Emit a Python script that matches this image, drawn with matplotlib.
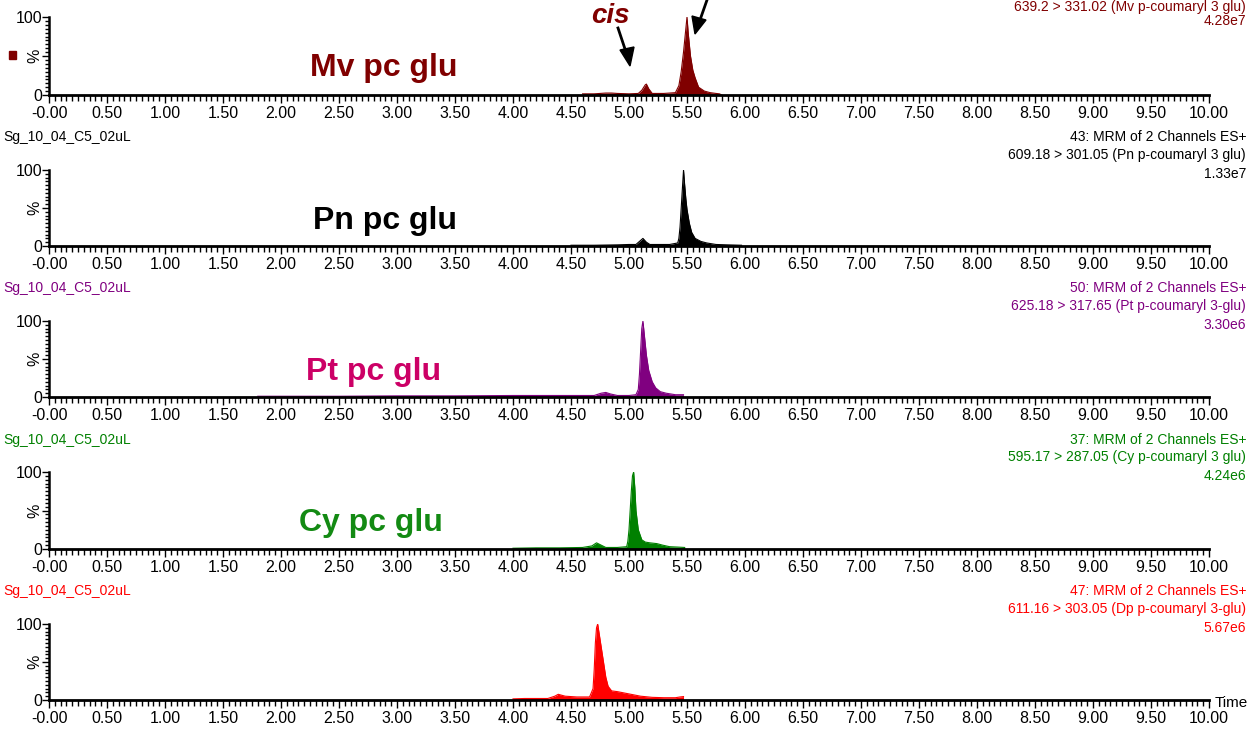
import numpy as np
import matplotlib
matplotlib.use("Agg")
import matplotlib.pyplot as plt
import matplotlib.ticker as ticker

plt.rcParams['font.family'] = ['Liberation Sans', 'DejaVu Sans']

# ---- data: chromatogram traces (time in min, intensity in %)
mv_t = [4.60, 4.70, 4.80, 4.85, 4.90, 5.00, 5.08, 5.11, 5.14, 5.15, 5.17, 5.20, 5.30, 5.40,
        5.43, 5.45, 5.47, 5.49, 5.50, 5.51, 5.53, 5.55, 5.57, 5.60, 5.65, 5.70, 5.75, 5.78, 5.80]
mv_y = [1.5, 1.5, 2.5, 2.5, 2, 1.5, 2, 6, 13, 14, 8, 2, 2, 3,
        12, 30, 55, 85, 100, 80, 50, 32, 22, 10, 5, 3, 2, 1.5, 0]

pn_t = [4.50, 4.70, 4.90, 5.00, 5.06, 5.09, 5.12, 5.15, 5.18, 5.25, 5.35, 5.42, 5.43, 5.44,
        5.45, 5.46, 5.47, 5.48, 5.49, 5.50, 5.52, 5.54, 5.57, 5.62, 5.67, 5.75, 5.85, 5.97]
pn_y = [1, 1, 1.5, 2, 2, 6, 10, 5, 2, 2, 2, 4, 10, 25,
        50, 75, 100, 80, 62, 48, 30, 18, 10, 6, 4, 2, 1.5, 1]

pt_t = [1.80, 2.50, 3.00, 3.50, 4.00, 4.30, 4.50, 4.70, 4.76, 4.80, 4.84, 4.90, 5.00, 5.06,
        5.08, 5.09, 5.10, 5.11, 5.12, 5.13, 5.15, 5.17, 5.20, 5.23, 5.27, 5.32, 5.40, 5.47]
pt_y = [1, 1, 1.5, 1.5, 2, 2, 2, 2, 5, 6, 4, 2, 2, 3,
        10, 30, 60, 90, 100, 85, 55, 35, 20, 12, 7, 5, 3, 3]

cy_t = [4.00, 4.20, 4.40, 4.60, 4.68, 4.72, 4.76, 4.80, 4.90, 4.98, 4.99, 5.00, 5.01, 5.02,
        5.03, 5.04, 5.05, 5.06, 5.08, 5.11, 5.14, 5.18, 5.24, 5.29, 5.35, 5.42, 5.48]
cy_y = [1, 1.5, 1.5, 2, 4, 8, 5, 2, 2, 3, 10, 25, 50, 75,
        95, 100, 80, 50, 25, 12, 9, 8, 7, 5, 3, 2.5, 2]

dp_t = [4.00, 4.10, 4.20, 4.30, 4.36, 4.39, 4.45, 4.55, 4.66, 4.69, 4.70, 4.71, 4.72, 4.73,
        4.74, 4.76, 4.78, 4.80, 4.82, 4.85, 4.90, 5.00, 5.10, 5.20, 5.30, 5.40, 5.44, 5.47]
dp_y = [1.5, 2, 2, 2, 5, 7.5, 5, 4, 4, 15, 40, 75, 95, 100,
        90, 70, 50, 30, 18, 12, 11, 8, 5, 3.5, 3, 3, 4, 4.5]

sample = "Sg_10_04_C5_02uL"
functions = [None, "43: MRM of 2 Channels ES+", "50: MRM of 2 Channels ES+",
             "37: MRM of 2 Channels ES+", "47: MRM of 2 Channels ES+"]
transitions = ["639.2 > 331.02 (Mv p-coumaryl 3 glu)",
               "609.18 > 301.05 (Pn p-coumaryl 3 glu)",
               "625.18 > 317.65 (Pt p-coumaryl 3-glu)",
               "595.17 > 287.05 (Cy p-coumaryl 3 glu)",
               "611.16 > 303.05 (Dp p-coumaryl 3-glu)"]
scales = ["4.28e7", "1.33e7", "3.30e6", "4.24e6", "5.67e6"]
names = ["Mv pc glu", "Pn pc glu", "Pt pc glu", "Cy pc glu", None]

traces = [(mv_t, mv_y), (pn_t, pn_y), (pt_t, pt_y), (cy_t, cy_y), (dp_t, dp_y)]
colors = ["#800000", "#000000", "#800080", "#008000", "#ff0000"]
name_colors = ["#800000", "#000000", "#cc0066", "#138a13", None]
name_x = [384, 385, 374, 371, None]

W, H = 1249, 730
fig = plt.figure(figsize=(W / 100, H / 100), dpi=100)


def fx(px):
    return px / W


def fy(py):
    return 1 - py / H


# pixel rows of 100% and 0% for each panel
tops = [17, 170, 321, 472, 624]
bottoms = [95, 246, 397, 549, 700]
x0, x1 = 49, 1209

xlabels = ["-0.00"] + ["%.2f" % v for v in np.arange(0.5, 10.01, 0.5)]

for i in range(5):
    ax = fig.add_axes([fx(x0), fy(bottoms[i]), fx(x1 - x0), (bottoms[i] - tops[i]) / H])
    t, y = traces[i]
    ax.fill_between(t, y, 0, color=colors[i], lw=0)
    ax.plot(t, y, color=colors[i], lw=0.8)
    ax.set_xlim(0, 10)
    ax.set_ylim(0, 100)
    for s in ['top', 'right']:
        ax.spines[s].set_visible(False)
    ax.spines['bottom'].set_linewidth(2)
    ax.spines['left'].set_linewidth(1.8)
    ax.xaxis.set_major_locator(ticker.FixedLocator(np.arange(0, 10.01, 0.5)))
    ax.xaxis.set_minor_locator(ticker.MultipleLocator(0.05))
    ax.set_xticklabels(xlabels)
    ax.yaxis.set_major_locator(ticker.FixedLocator([0, 50, 100]))
    ax.yaxis.set_minor_locator(ticker.MultipleLocator(5))
    ax.set_yticklabels(["0", "%", "100"])
    ax.get_yticklabels()[1].set_rotation(90)
    ax.get_yticklabels()[1].set_va("center")
    ax.tick_params(axis='x', which='major', length=6, width=1, labelsize=11.5, pad=2)
    ax.tick_params(axis='x', which='minor', length=4, width=1)
    ax.tick_params(axis='y', which='major', length=5, width=1, labelsize=11.5, pad=0)
    ax.tick_params(axis='y', which='minor', length=3, width=1)
    ax.patch.set_alpha(0)

    # header texts
    hc = colors[i]
    if i > 0:
        fig.text(fx(3), fy(bottoms[i] - 109), sample, color=hc, fontsize=10,
                 ha='left', va='center')
        fig.text(fx(1246), fy(bottoms[i] - 109), functions[i], color=hc, fontsize=10,
                 ha='right', va='center')
    ty = tops[i] - 15 if i > 0 else 7
    fig.text(fx(1246), fy(ty), transitions[i], color=hc, fontsize=10,
             ha='right', va='center')
    fig.text(fx(1246), fy(tops[i] + 4), scales[i], color=hc, fontsize=10,
             ha='right', va='center')

    if names[i]:
        fig.text(fx(name_x[i]), fy(tops[i] + 51), names[i], color=name_colors[i], fontsize=23,
                 fontweight='bold', ha='center', va='center')

# annotations on the Mv panel
fig.text(fx(610), fy(23), "cis", color="#800000", fontsize=20, fontweight='bold',
         fontstyle='italic', ha='center', va='baseline')
fig.add_artist(plt.Line2D([fx(618), fx(626)], [fy(28), fy(52)], color='black', lw=2))
fig.patches.append(plt.Polygon([[fx(630), fy(66)], [fx(620), fy(50)], [fx(634), fy(47)]],
                               closed=True, color='black', transform=fig.transFigure))
fig.add_artist(plt.Line2D([fx(707), fx(700)], [fy(0), fy(20)], color='black', lw=2))
fig.patches.append(plt.Polygon([[fx(695), fy(34)], [fx(692), fy(16)], [fx(706), fy(20)]],
                               closed=True, color='black', transform=fig.transFigure))

fig.patches.append(plt.Rectangle((fx(9), fy(59)), 7 / W, 8 / H, color="#800000",
                                 transform=fig.transFigure))

fig.text(fx(1215), fy(703), "Time", fontsize=11, ha='left', va='center')

fig.savefig("out.png", dpi=100)
